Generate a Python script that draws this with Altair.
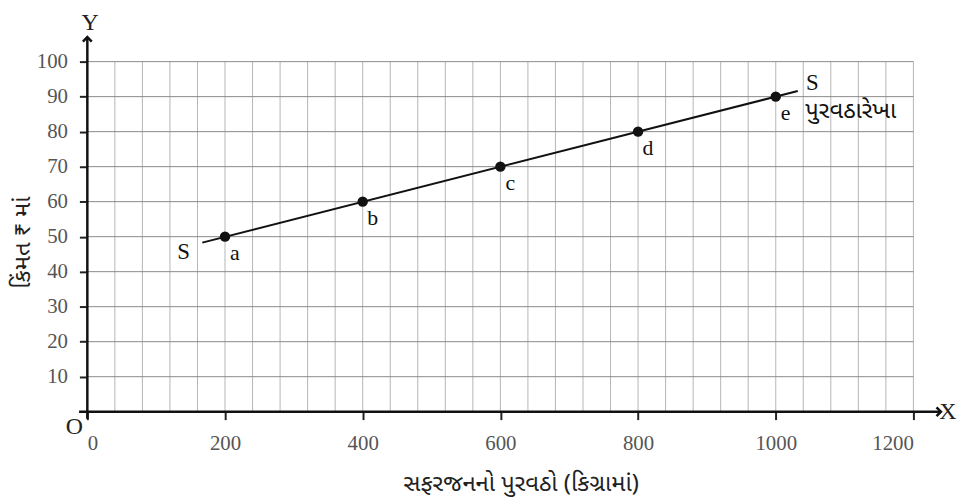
import altair as alt
import pandas as pd

# ---- data ----
x_ticks = [0, 200, 400, 600, 800, 1000, 1200]
y_ticks = [10, 20, 30, 40, 50, 60, 70, 80, 90, 100]
grid_x = list(range(0, 1201, 40))
grid_y = list(range(10, 101, 10))
pt_labels = ["a", "b", "c", "d", "e"]
supply = [200, 400, 600, 800, 1000]
price = [50, 60, 70, 80, 90]
line_x = [167, 1032]
line_y = [48.3, 91.6]

X_TITLE = "સફરજનનો પુરવઠો (કિગ્રામાં)"
Y_TITLE = "કિંમત ₹ માં"
CURVE_NAME = "પુરવઠારેખા"

SERIF = "Liberation Serif"
GUJ = "Noto Sans Gujarati, Noto Serif Gujarati, Lohit Gujarati, sans-serif"

W, H = 833, 353
xs = alt.Scale(domain=[0, 1200], nice=False, zero=False)
ys = alt.Scale(domain=[0, 100], nice=False, zero=False)

xax = alt.Axis(
    values=x_ticks, format="d", grid=False, domain=False, tickSize=8, tickWidth=2,
    tickColor="#222", labelPadding=13, labelOverlap=False,
    labelFont=SERIF, labelFontSize=21, labelColor="#555",
    title=X_TITLE, titleX=437, titleY=72, titleBaseline="middle",
    titleFontSize=24, titleFont=GUJ, titleFontWeight="normal", titleColor="#222")
yax = alt.Axis(
    values=y_ticks, format="d", grid=False, domain=False, tickSize=8, tickWidth=2,
    tickColor="#222", labelPadding=12, labelOverlap=False,
    labelFont=SERIF, labelFontSize=21, labelColor="#555",
    title=Y_TITLE, titleAngle=270, titleX=-65, titleY=182,
    titleAlign="center", titleBaseline="middle", titleFontSize=24, titleFont=GUJ,
    titleFontWeight="normal", titleColor="#222")


def X(field):
    return alt.X(field, scale=xs, axis=xax)


def Y(field):
    return alt.Y(field, scale=ys, axis=yax)


# gridlines
vgrid = alt.Chart(pd.DataFrame({"x": grid_x, "y0": 0, "y1": 100})).mark_rule(
    color="#b5b5b5", strokeWidth=1
).encode(x=X("x:Q"), y=Y("y0:Q"), y2="y1:Q")

hgrid = alt.Chart(pd.DataFrame({"y": grid_y, "x0": 0, "x1": 1200})).mark_rule(
    color="#8a8a8a", strokeWidth=1
).encode(x=X("x0:Q"), x2="x1:Q", y=Y("y:Q"))

# axis lines with arrows
xaxis_line = alt.Chart(pd.DataFrame({"x0": [-12], "x1": [1240], "y": [0]})).mark_rule(
    color="#111", strokeWidth=2.5
).encode(x=X("x0:Q"), x2="x1:Q", y=Y("y:Q"))
yaxis_line = alt.Chart(pd.DataFrame({"x": [0], "y0": [-2], "y1": [107]})).mark_rule(
    color="#111", strokeWidth=2.5
).encode(x=X("x:Q"), y=Y("y0:Q"), y2="y1:Q")

x_arrow = alt.Chart(pd.DataFrame({"x": [1240], "y": [0]})).mark_point(
    shape="M-1,-1L0,0L-1,1", filled=False, color="#111", strokeWidth=2.5, size=80, opacity=1
).encode(x=X("x:Q"), y=Y("y:Q"))
y_arrow = alt.Chart(pd.DataFrame({"x": [0], "y": [107]})).mark_point(
    shape="M-1,1L0,0L1,1", filled=False, color="#111", strokeWidth=2.5, size=80, opacity=1
).encode(x=X("x:Q"), y=Y("y:Q"))

axis_names = alt.Chart(pd.DataFrame({
    "x": [4, 1250, -19], "y": [111, 0, -4.5], "t": ["Y", "X", "O"]
})).mark_text(font=SERIF, fontSize=24, color="#222", align="center", baseline="middle").encode(
    x=X("x:Q"), y=Y("y:Q"), text="t:N"
)

# supply line
sline = alt.Chart(pd.DataFrame({"x": line_x, "y": line_y})).mark_line(
    color="#111", strokeWidth=2
).encode(x=X("x:Q"), y=Y("y:Q"))

pts_df = pd.DataFrame({"x": supply, "y": price, "t": pt_labels})
pts = alt.Chart(pts_df).mark_circle(color="#111", opacity=1, size=110).encode(
    x=X("x:Q"), y=Y("y:Q")
)
pt_text = alt.Chart(pts_df).mark_text(
    font=SERIF, fontSize=22, color="#111", dx=10, dy=17, align="center", baseline="middle"
).encode(x=X("x:Q"), y=Y("y:Q"), text="t:N")

s_text = alt.Chart(pd.DataFrame({"x": [140, 1053], "y": [45.5, 93.8], "t": ["S", "S"]})).mark_text(
    font=SERIF, fontSize=23, color="#111", align="center", baseline="middle"
).encode(x=X("x:Q"), y=Y("y:Q"), text="t:N")

name_text = alt.Chart(pd.DataFrame({"x": [1043], "y": [85.8], "t": [CURVE_NAME]})).mark_text(
    font=GUJ, fontSize=24, color="#111", align="left", baseline="middle"
).encode(x=X("x:Q"), y=Y("y:Q"), text="t:N")

chart = alt.layer(
    vgrid, hgrid, xaxis_line, yaxis_line, x_arrow, y_arrow, axis_names,
    sline, pts, pt_text, s_text, name_text
).properties(
    width=W, height=H,
    autosize=alt.AutoSizeParams(type="none"),
    padding={"left": 80, "top": 52, "right": 50, "bottom": 91},
    background="white",
).configure_view(stroke=None)

chart.save("out.html", embed_options={"renderer": "svg", "actions": False})
